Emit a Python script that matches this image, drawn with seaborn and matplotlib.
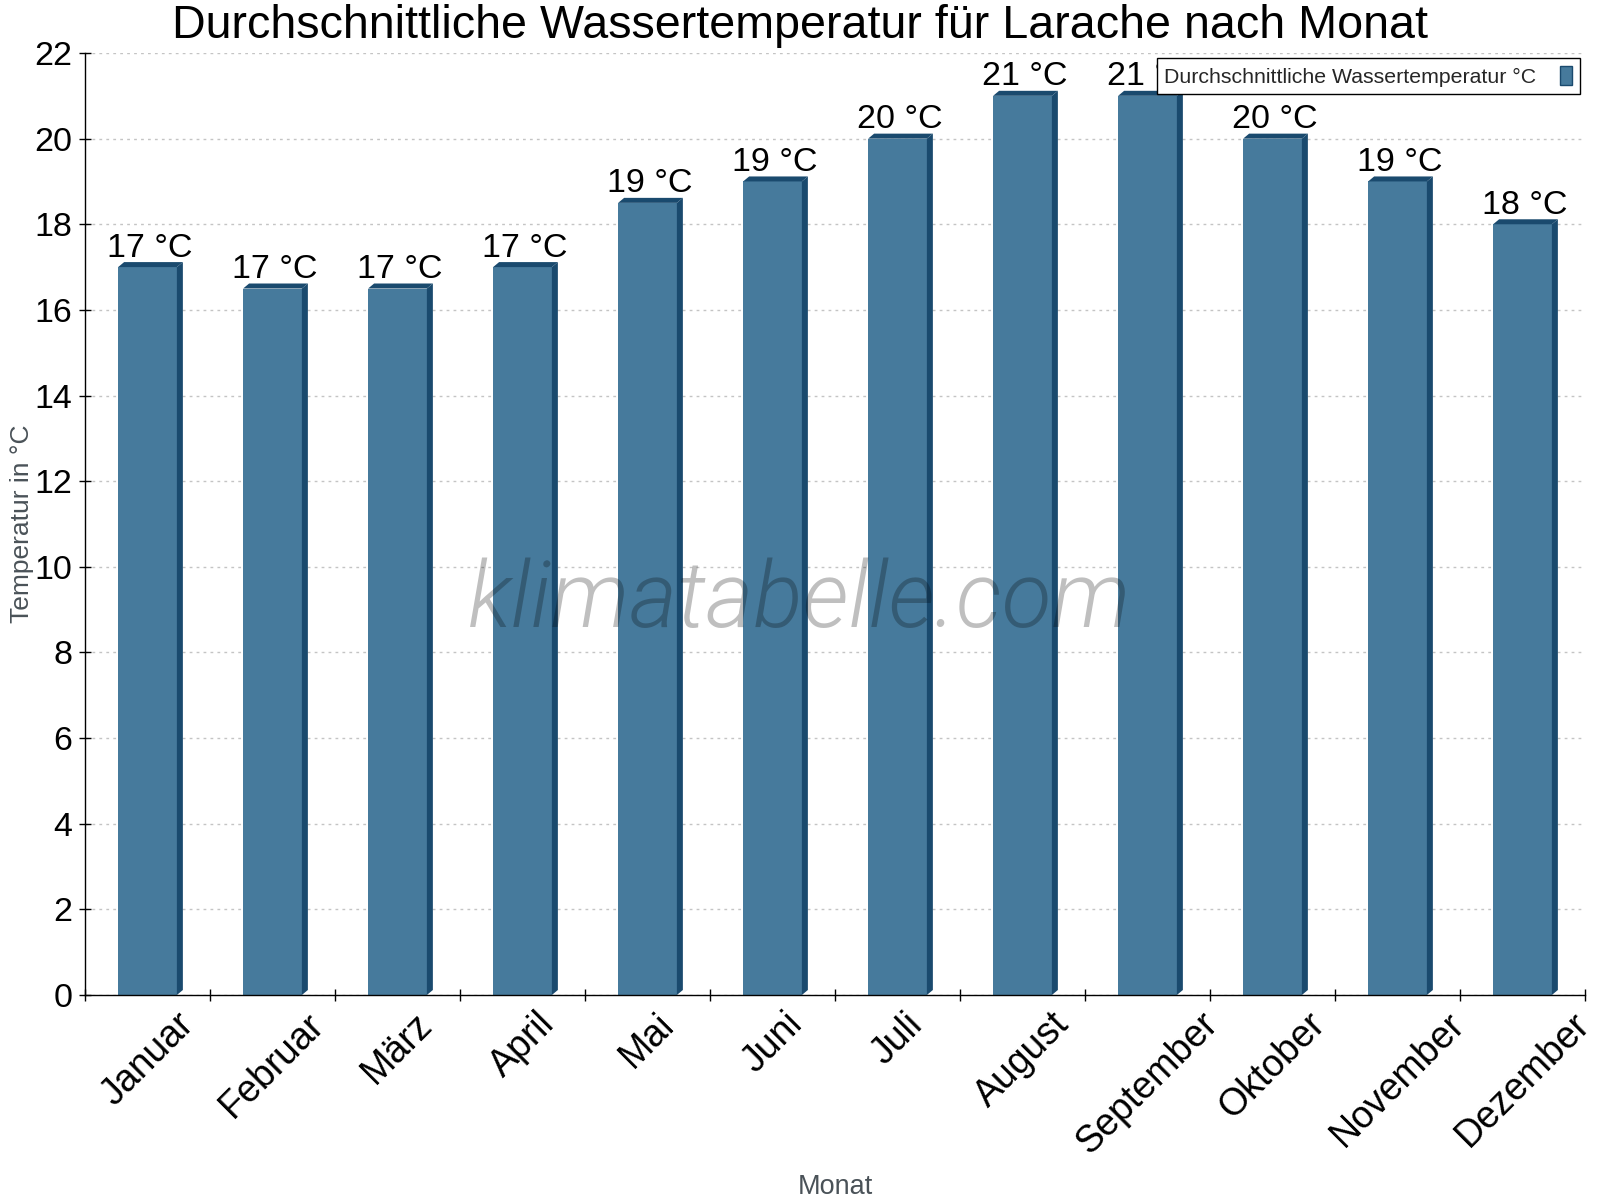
import numpy as np
import pandas as pd
import matplotlib
matplotlib.use('Agg')
import matplotlib.pyplot as plt
from matplotlib.patches import Polygon
import seaborn as sns

# data
months = ['Januar', 'Februar', 'März', 'April', 'Mai', 'Juni', 'Juli',
          'August', 'September', 'Oktober', 'November', 'Dezember']
water_temp = [17, 16.5, 16.5, 17, 18.5, 19, 20, 21, 21, 20, 19, 18]
series_name = 'Durchschnittliche Wassertemperatur °C'

front_color = '#467a9c'
dark_color = '#1a4a6e'

sns.set_theme(style='white')
plt.rcParams['font.family'] = ['Liberation Sans', 'DejaVu Sans']

df = pd.DataFrame({'Monat': months, 'Temp': water_temp})

fig = plt.figure(figsize=(16, 12), dpi=100)
ax = fig.add_axes([85 / 1600, 1 - 995 / 1200, 1500 / 1600, 942 / 1200])

sns.barplot(data=df, x='Monat', y='Temp', color=front_color, saturation=1,
            width=0.47, ax=ax, label=series_name, zorder=2, linewidth=0)

ax.set_xlim(-0.5, 11.5)
ax.set_ylim(0, 22)
ax.set_yticks(np.arange(0, 23, 2))

# fake 3D: side and top faces, depth given in pixels
px = ax.transData.transform((1, 1)) - ax.transData.transform((0, 0))
ddx = 6 / px[0]
ddy = 5 / px[1]
for p in ax.patches:
    x0, w, h = p.get_x(), p.get_width(), p.get_height()
    side = Polygon([(x0 + w, 0), (x0 + w + ddx, ddy), (x0 + w + ddx, h + ddy), (x0 + w, h)],
                   closed=True, facecolor=dark_color, edgecolor='none', zorder=2)
    top = Polygon([(x0, h), (x0 + ddx, h + ddy), (x0 + w + ddx, h + ddy), (x0 + w, h)],
                  closed=True, facecolor=dark_color, edgecolor='none', zorder=2)
    ax.add_patch(side)
    ax.add_patch(top)

# value labels
for i, v in enumerate(water_temp):
    ax.annotate(f'{int(np.floor(v + 0.5))} °C', (i, v), xytext=(1.5, 7.5),
                textcoords='offset points', ha='center', va='baseline',
                fontsize=24.5, color='black', zorder=3)

# grid and spines
ax.set_axisbelow(True)
ax.yaxis.grid(True, linestyle=(0, (2, 3)), color='#c4c4c4', linewidth=1)
ax.xaxis.grid(False)
sns.despine(ax=ax, top=True, right=True)
for s in ['left', 'bottom']:
    ax.spines[s].set_color('black')
    ax.spines[s].set_linewidth(1)

# ticks
ax.set_xticks(range(len(months)))
ax.set_xticklabels(months, rotation=45, ha='center')
ax.set_xticks(np.arange(-0.5, 12, 1), minor=True)
ax.tick_params(axis='x', which='major', length=0, pad=8, labelsize=27, labelcolor='black')
ax.tick_params(axis='x', which='minor', length=8, width=1, direction='inout', color='black', bottom=True)
ax.tick_params(axis='y', length=8, width=1, direction='inout', color='black', left=True,
               labelsize=24.5, labelcolor='black', pad=5)

ax.set_xlabel('Monat', fontsize=19.5, color='#4a5258')
ax.set_ylabel('Temperatur in °C', fontsize=19, color='#4a5258')
ax.xaxis.set_label_coords(0.5, -0.19)
ax.yaxis.labelpad = 0

# legend (drawn on top, hides part of the September label like the original)
leg = ax.legend(loc='upper right', markerfirst=False, fontsize=15.3, frameon=True,
                fancybox=False, edgecolor='black', framealpha=1, borderaxespad=0.3,
                handlelength=0.6, handleheight=1.0, handletextpad=1.1, borderpad=0.3)
leg.get_frame().set_linewidth(1)
leg._legend_box.sep = 0
for hnd in leg.legend_handles:
    hnd.set_edgecolor(dark_color)
    hnd.set_linewidth(1)
leg.get_frame().set_boxstyle('square', pad=0.05)

# title and watermark
fig.text(0.5, 1 - 38 / 1200, 'Durchschnittliche Wassertemperatur für Larache nach Monat',
         ha='center', va='baseline', fontsize=33.6, color='black')
fig.text(0.5, 1 - 627 / 1200, 'klimatabelle.com', ha='center', va='baseline',
         fontsize=66, family='Roboto', style='italic', fontweight=300,
         color='black', alpha=0.25, zorder=10)

fig.savefig('out.png', dpi=100)
